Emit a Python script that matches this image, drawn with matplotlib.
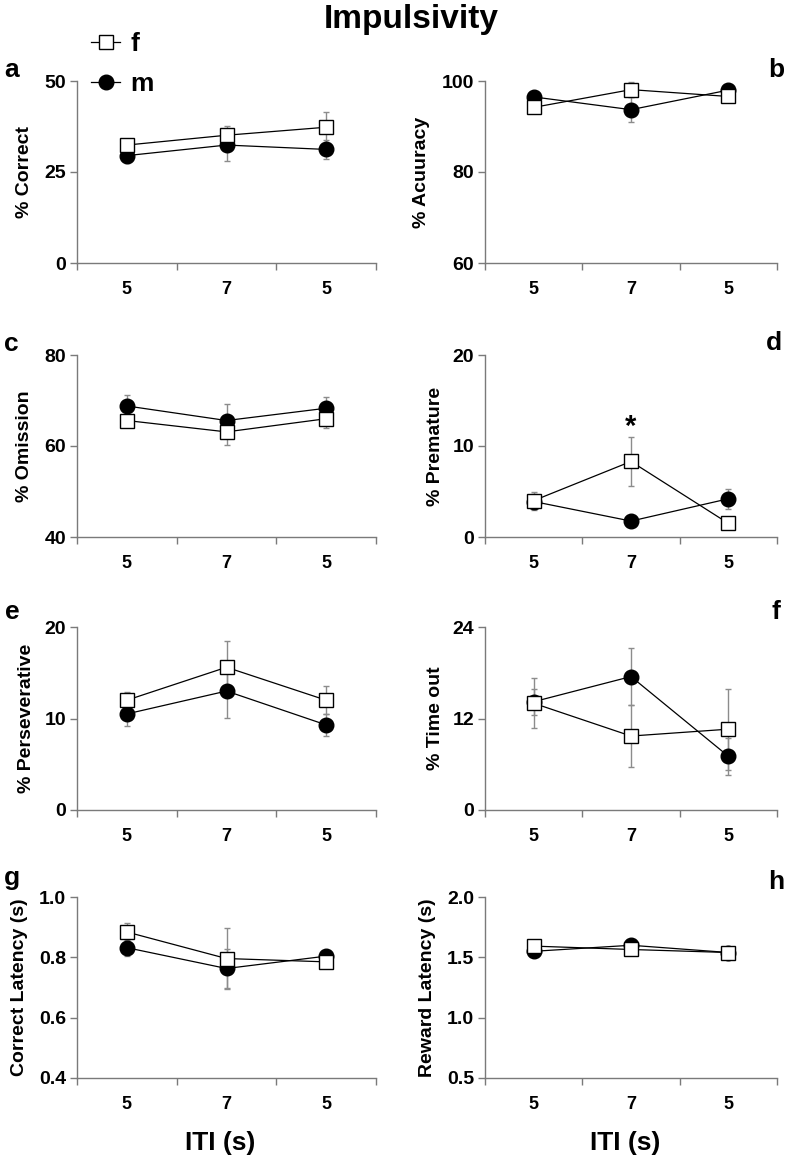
import matplotlib
matplotlib.use("Agg")
import matplotlib.pyplot as plt
from matplotlib.ticker import FixedLocator, FormatStrFormatter

plt.rcParams['font.family'] = ['Liberation Sans', 'DejaVu Sans']
plt.rcParams['font.weight'] = 'bold'

# ---------------- data ----------------
iti_labels = ['5', '7', '5']
series_names = ['f', 'm']

a_f = [32.4, 35.1, 37.3]; a_f_err = [1.0, 2.5, 4.2]
a_m = [29.5, 32.4, 31.2]; a_m_err = [2.0, 4.3, 2.6]

b_f = [94.2, 98.1, 96.6]; b_f_err = [0.6, 1.7, 0.8]
b_m = [96.5, 93.7, 98.0]; b_m_err = [0.5, 2.8, 0.5]

c_f = [65.6, 63.1, 66.0]; c_f_err = [1.0, 2.9, 2.1]
c_m = [68.8, 65.6, 68.3]; c_m_err = [2.4, 3.7, 2.5]

d_f = [4.0, 8.3, 1.5]; d_f_err = [1.0, 2.7, 0.4]
d_m = [3.9, 1.75, 4.2]; d_m_err = [0.8, 0.4, 1.1]

e_f = [12.0, 15.6, 12.0]; e_f_err = [0.9, 2.9, 1.5]
e_m = [10.5, 13.0, 9.3]; e_m_err = [1.3, 2.9, 1.2]

f_f = [14.0, 9.7, 10.6]; f_f_err = [3.3, 4.1, 5.3]
f_m = [14.2, 17.5, 7.05]; f_m_err = [1.7, 3.7, 2.4]

g_f = [0.884, 0.796, 0.785]; g_f_err = [0.03, 0.10, 0.01]
g_m = [0.832, 0.763, 0.804]; g_m_err = [0.027, 0.066, 0.01]

h_f = [1.593, 1.565, 1.54]; h_f_err = [0.03, 0.02, 0.02]
h_m = [1.55, 1.60, 1.54]; h_m_err = [0.03, 0.03, 0.02]

ylabels = ['% Correct', '% Acuuracy', '% Omission', '% Premature',
           '% Perseverative', '% Time out', 'Correct Latency (s)', 'Reward Latency (s)']
yticks = [[0, 25, 50], [60, 80, 100], [40, 60, 80], [0, 10, 20],
          [0, 10, 20], [0, 12, 24], [0.4, 0.6, 0.8, 1.0], [0.5, 1.0, 1.5, 2.0]]
panel_letters = ['a', 'b', 'c', 'd', 'e', 'f', 'g', 'h']

# ---------------- layout ----------------
W, H = 787, 1160
fig = plt.figure(figsize=(W / 100, H / 100), dpi=100)

col_x = [(77, 299), (485, 292)]
row_y = [(81, 263), (355, 537), (627, 810), (897, 1078)]
ylabel_x = [25, 422, 25, 436, 27, 436, 20, 428]
letter_pos = [(12, 70), (776, 70), (11, 344), (774, 343), (12, 612), (776, 612), (12, 878), (776, 882)]

datasets = [(a_f, a_f_err, a_m, a_m_err), (b_f, b_f_err, b_m, b_m_err),
            (c_f, c_f_err, c_m, c_m_err), (d_f, d_f_err, d_m, d_m_err),
            (e_f, e_f_err, e_m, e_m_err), (f_f, f_f_err, f_m, f_m_err),
            (g_f, g_f_err, g_m, g_m_err), (h_f, h_f_err, h_m, h_m_err)]

xpos = [0.5, 1.5, 2.5]
spine_col = '#7a7a7a'
axes = []
for i in range(8):
    r, c = divmod(i, 2)
    x0, w = col_x[c]
    top, bot = row_y[r]
    ax = fig.add_axes([x0 / W, 1 - bot / H, w / W, (bot - top) / H])
    axes.append(ax)
    fv, fe, mv, me = datasets[i]
    ax.errorbar(xpos, mv, yerr=me, fmt='none', ecolor='#8c8c8c', elinewidth=1,
                capsize=2.5, capthick=1, zorder=2)
    ax.errorbar(xpos, fv, yerr=fe, fmt='none', ecolor='#8c8c8c', elinewidth=1,
                capsize=2.5, capthick=1, zorder=2)
    lm, = ax.plot(xpos, mv, color='black', lw=0.9, marker='o', ms=10.5,
                  mfc='black', mec='black', zorder=3, label='m', clip_on=False)
    lf, = ax.plot(xpos, fv, color='black', lw=0.9, marker='s', ms=10.5,
                  mfc='white', mec='black', mew=1, zorder=4, label='f', clip_on=False)
    if i == 0:
        handles = [lf, lm]
    yt = yticks[i]
    ax.set_ylim(yt[0], yt[-1])
    ax.set_xlim(0, 3)
    ax.set_yticks(yt)
    if i >= 6:
        ax.yaxis.set_major_formatter(FormatStrFormatter('%.1f'))
    ax.set_xticks([0, 1, 2, 3])
    ax.set_xticklabels([])
    ax.xaxis.set_minor_locator(FixedLocator(xpos))
    ax.set_xticks(xpos, minor=True)
    ax.set_xticklabels(iti_labels, minor=True, fontsize=13, fontweight='bold')
    ax.tick_params(axis='x', which='minor', length=0, pad=13)
    ax.tick_params(axis='x', which='major', length=5, width=1, color=spine_col, direction='out')
    ax.tick_params(axis='y', which='major', length=5, width=1, color=spine_col,
                   direction='out', labelsize=14, pad=3)
    for lab in ax.get_yticklabels():
        lab.set_fontweight('bold')
    for s in ['top', 'right']:
        ax.spines[s].set_visible(False)
    for s in ['left', 'bottom']:
        ax.spines[s].set_color(spine_col)
        ax.spines[s].set_linewidth(1)
    ax.set_ylabel(ylabels[i], fontsize=14, fontweight='bold')
    ax.yaxis.set_label_coords(-(x0 - ylabel_x[i]) / w, 0.5)
    ax.yaxis.label.set_va('center')
    ax.patch.set_visible(False)
    lx, ly = letter_pos[i]
    fig.text(lx / W, 1 - ly / H, panel_letters[i], fontsize=19, fontweight='bold',
             ha='center', va='center')
    if r == 3:
        ax.set_xlabel('ITI (s)', fontsize=19, fontweight='bold')
        ax.xaxis.set_label_coords(0.48, -(1143 - bot) / (bot - top))
        ax.xaxis.label.set_va('center')

# significance marker in panel d
axes[3].text(1.5, 12.1, '*', fontsize=21, fontweight='bold', ha='center', va='center')

# title
fig.text(411 / W, 1 - 28 / H, 'Impulsivity', fontsize=24, fontweight='bold',
         ha='center', va='baseline')

# legend
fig.legend(handles=handles, labels=series_names, loc='upper left',
           bbox_to_anchor=(91 / W, 1 - 32 / H), frameon=False,
           handlelength=1.1, handletextpad=0.4, labelspacing=0.62, borderpad=0,
           borderaxespad=0, prop={'weight': 'bold', 'size': 19})

fig.savefig('out.png', dpi=100)
